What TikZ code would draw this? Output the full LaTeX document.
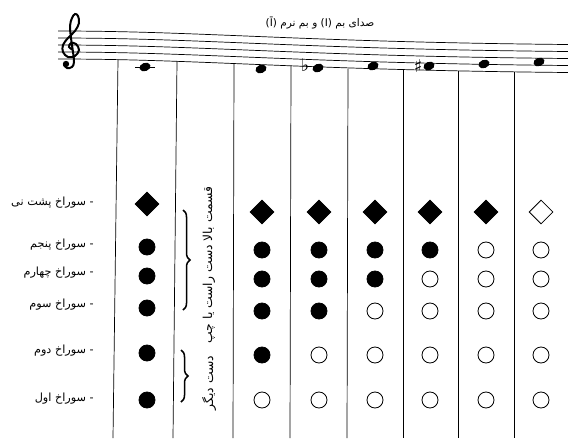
\documentclass[tikz,border=0pt]{standalone}
\usepackage{fontspec}
\usepackage{tikz}
\usetikzlibrary{shapes.geometric, decorations.pathreplacing}
\TeXXeTstate=1
\newfontfamily\farsi[Script=Arabic]{DejaVu Sans}
\newfontfamily\symb{DejaVu Sans}

\begin{document}
\begin{tikzpicture}[x=0.03cm, y=-0.03cm,
    label/.style={anchor=east, inner sep=0pt, font=\farsi\fontsize{9.6}{11}\selectfont},
    sidetext/.style={rotate=90, inner sep=0pt, font=\farsi\fontsize{10.5}{12}\selectfont},
    hole/.style={circle, draw, line width=0.7pt, minimum size=0.48cm, inner sep=0pt},
    thumb/.style={diamond, draw, line width=0.7pt, minimum width=0.72cm, minimum height=0.72cm, inner sep=0pt},
    notehead/.style={ellipse, fill, minimum width=0.34cm, minimum height=0.25cm, inner sep=0pt, rotate=20},
    accidental/.style={font=\symb\fontsize{15}{15}\selectfont, inner sep=0pt},
    staffline/.style={line width=0.6pt},
    colline/.style={line width=0.6pt},
    bracket/.style={decorate, decoration={brace, amplitude=6pt}, line width=1.3pt},
]
\useasboundingbox (0,0) rectangle (568,438);

% staff and clef
\foreach \i in {0,...,4}
    \draw[staffline] (58,{59-7*\i}) .. controls (200,{59-7*\i}) and (300,{70-7*\i}) .. (568,{72.5-7*\i});
\draw[line width=1.7pt, line cap=round] plot[smooth, tension=0.6] coordinates {
    (73,50) (69,47) (71,43) (76,44) (79,50) (75,56) (68,57) (63,52) (63,45) (68,38)
    (75,31) (79,23) (78,16) (75,14) (72,18) (70,26) (71,38) (73,52) (74,62) (72,67)
    (67,68) (64,65)};
\fill (66,64) circle[radius=3.2];
\node[font=\farsi\fontsize{9}{11}\selectfont] (title) at (320,23)
    {\beginR صدای بم \beginL(I)\endL{} و بم نرم \beginL(Ī)\endL\endR};

% notes
\foreach \n/\x/\y in {c/145/67, d/261/69, es/318/68, f/373/66, fis/429/66, g/484/64, a/539/62}
    \node[notehead] (note-\n) at (\x,\y) {};
\draw[line width=0.7pt] ([xshift=-0.3cm]note-c.center) -- ([xshift=0.3cm]note-c.center);
\node[accidental] (flat) at (305,65) {♭};
\node[accidental] (sharp) at (418,66) {♯};

% columns
\foreach \xt/\yt/\xb in {118/59.7/113, 177/61/173, 234/63/233, 291/66/290, 348/68.5/347, 403/69.8/403, 458/70.8/458, 514/71.8/514}
    \draw[colline] (\xt,\yt) -- (\xb,438);

% hole names
\foreach \n/\y/\t in {back/203/{- سوراخ پشت نی}, five/245/{- سوراخ پنجم}, four/273/{- سوراخ چهارم},
                      three/305/{- سوراخ سوم}, two/351/{- سوراخ دوم}, one/399/{- سوراخ اول}}
    \node[label] (lbl-\n) at (94,\y) {\beginR\t\endR};

% hands
\draw[bracket] (183,210) -- (183,310);
\draw[bracket] (181,350) -- (181,402);
\node[sidetext] (upper) at (209,265) {\beginR قسمت بالا دست راست یا چپ\endR};
\node[sidetext] (lower) at (209,383) {\beginR دست دیگر\endR};

% fingerings
\node[thumb, fill=black] (c1-0) at (147,204) {};
\foreach \r/\y in {1/247, 2/276, 3/308, 4/353, 5/400}
    \node[hole, fill=black] (c1-\r) at (147,\y) {};
\foreach \k/\x/\t/\ha/\hb/\hc/\hd/\he in {3/262/black/black/black/black/black/white,
        4/319/black/black/black/black/white/white, 5/375/black/black/black/white/white/white,
        6/430/black/black/white/white/white/white, 7/486/black/white/white/white/white/white,
        8/541/white/white/white/white/white/white}
{
    \node[thumb, fill=\t] (c\k-0) at (\x,212) {};
    \node[hole, fill=\ha] (c\k-1) at (\x,250) {};
    \node[hole, fill=\hb] (c\k-2) at (\x,279) {};
    \node[hole, fill=\hc] (c\k-3) at (\x,311) {};
    \node[hole, fill=\hd] (c\k-4) at (\x,355) {};
    \node[hole, fill=\he] (c\k-5) at (\x,400) {};
}
\end{tikzpicture}
\end{document}
